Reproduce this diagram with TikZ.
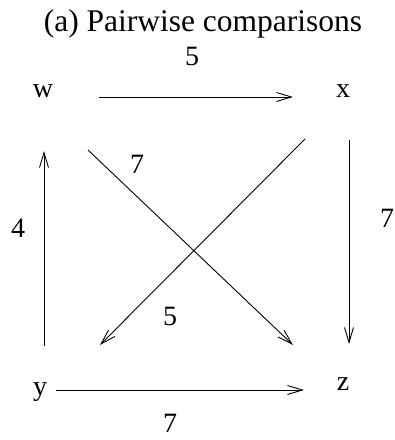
\documentclass[tikz,border=0pt]{standalone}
\usepackage{fontspec}
\setmainfont{Liberation Serif}
\usetikzlibrary{arrows.meta}
\begin{document}
\begin{tikzpicture}[x=1pt,y=-1pt,
  lbl/.style={anchor=base,inner sep=0pt,font=\fontsize{28}{32}\selectfont},
  ttl/.style={anchor=base,inner sep=0pt,font=\fontsize{31.5}{36}\selectfont},
  edge/.style={line width=0.9pt,-{Straight Barb[length=15pt,width=9pt,line width=0.9pt]}}]
\useasboundingbox (0,0) rectangle (395,440);
\node[ttl] (title) at (203,31) {(a) Pairwise comparisons};
\node[lbl] (w) at (43,97) {w};
\node[lbl] (x) at (343,97) {x};
\node[lbl] (y) at (40,395) {y};
\node[lbl] (z) at (343,390) {z};
\node[lbl] (lwx) at (192,65) {5};
\node[lbl] (lwz) at (137,173) {7};
\node[lbl] (lyw) at (18,237) {4};
\node[lbl] (lxz) at (387,227) {7};
\node[lbl] (lxy) at (170,325) {5};
\node[lbl] (lyz) at (170,432) {7};
\coordinate (wxa) at (99,97);   \coordinate (wxb) at (293,97);
\coordinate (xza) at (349,140); \coordinate (xzb) at (349,344);
\coordinate (ywa) at (44,346);  \coordinate (ywb) at (44,151);
\coordinate (wza) at (88,150);  \coordinate (wzb) at (293,345);
\coordinate (xya) at (305,139); \coordinate (xyb) at (100,345);
\coordinate (yza) at (56,390);  \coordinate (yzb) at (304,390);
\draw[edge] (wxa) -- (wxb);
\draw[edge] (xza) -- (xzb);
\draw[edge] (ywa) -- (ywb);
\draw[edge] (wza) -- (wzb);
\draw[edge] (xya) -- (xyb);
\draw[edge] (yza) -- (yzb);
\end{tikzpicture}
\end{document}
